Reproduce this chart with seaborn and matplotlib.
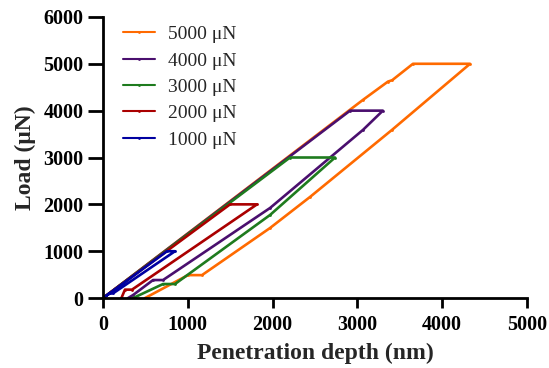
import numpy as np
import pandas as pd
import matplotlib
matplotlib.use("Agg")
import matplotlib.pyplot as plt
import seaborn as sns

# ---- data ----
labels = ["5000 μN", "4000 μN", "3000 μN", "2000 μN", "1000 μN"]

depth_5000 = [0, 3066, 3360, 3410, 3655, 4328, 3408, 2441, 1970, 1167, 1002, 495]
load_5000 = [0, 4231, 4620, 4650, 5000, 5000, 3590, 2158, 1496, 490, 490, 0]

depth_4000 = [0, 2913, 3300, 3066, 1970, 708, 590, 354, 295]
load_4000 = [0, 4000, 4000, 3590, 1923, 385, 385, 64, 0]

depth_3000 = [0, 2205, 2736, 1970, 849, 708, 354]
load_3000 = [0, 3000, 3000, 1774, 300, 300, 0]

depth_2000 = [0, 1498, 1816, 342, 259, 217]
load_2000 = [0, 2000, 2000, 180, 180, 0]

depth_1000 = [0, 755, 849, 118, 80, 0]
load_1000 = [0, 1000, 1000, 100, 100, 0]

colors = ["#FF6A00", "#4A0F6E", "#1E7B1E", "#AA0000", "#0000A0"]

x_ticks = [0, 1000, 2000, 3000, 4000, 5000]
y_ticks = [0, 1000, 2000, 3000, 4000, 5000, 6000]

series = [(depth_5000, load_5000), (depth_4000, load_4000), (depth_3000, load_3000),
          (depth_2000, load_2000), (depth_1000, load_1000)]
frames = []
for lab, (d, l) in zip(labels, series):
    frames.append(pd.DataFrame({"depth": d, "load": l, "series": lab}))
df = pd.concat(frames, ignore_index=True)

sns.set_style("ticks")
plt.rcParams["font.family"] = ["Liberation Serif", "DejaVu Serif"]

fig = plt.figure(figsize=(5.49, 3.68), dpi=100)
ax = fig.add_axes([0.1876, 0.190, 0.960 - 0.1876, 0.954 - 0.190])

sns.lineplot(data=df, x="depth", y="load", hue="series", hue_order=labels,
             palette=colors, sort=False, estimator=None, units="series",
             linewidth=1.9, marker="o", markersize=2.0, markeredgewidth=0,
             ax=ax)

ax.set_xlim(0, 5000)
ax.set_ylim(0, 6000)
ax.set_xticks(x_ticks)
ax.set_yticks(y_ticks)
ax.set_xticklabels([str(t) for t in x_ticks], fontweight="bold", fontsize=14.5)
ax.set_yticklabels([str(t) for t in y_ticks], fontweight="bold", fontsize=14.5)
ax.set_xlabel("Penetration depth (nm)", fontweight="bold", fontsize=17, labelpad=6)
ax.set_ylabel("Load (μN)", fontweight="bold", fontsize=17, labelpad=5)

for s in ["top", "right"]:
    ax.spines[s].set_visible(False)
for s in ["left", "bottom"]:
    ax.spines[s].set_linewidth(2.0)
    ax.spines[s].set_color("black")
ax.tick_params(axis="x", direction="out", length=7, width=2.0, colors="black", pad=5)
ax.tick_params(axis="y", direction="out", length=11, width=2.0, colors="black", pad=3)
for sp in ax.spines.values():
    sp.set_clip_on(False)

leg = ax.legend(loc="upper left", bbox_to_anchor=(0.03, 0.997), frameon=False,
                fontsize=14, handlelength=1.6, handletextpad=0.7, labelspacing=0.45,
                borderaxespad=0.0)
for h in leg.get_lines():
    h.set_linewidth(1.5)

fig.savefig("out.png", dpi=100)
